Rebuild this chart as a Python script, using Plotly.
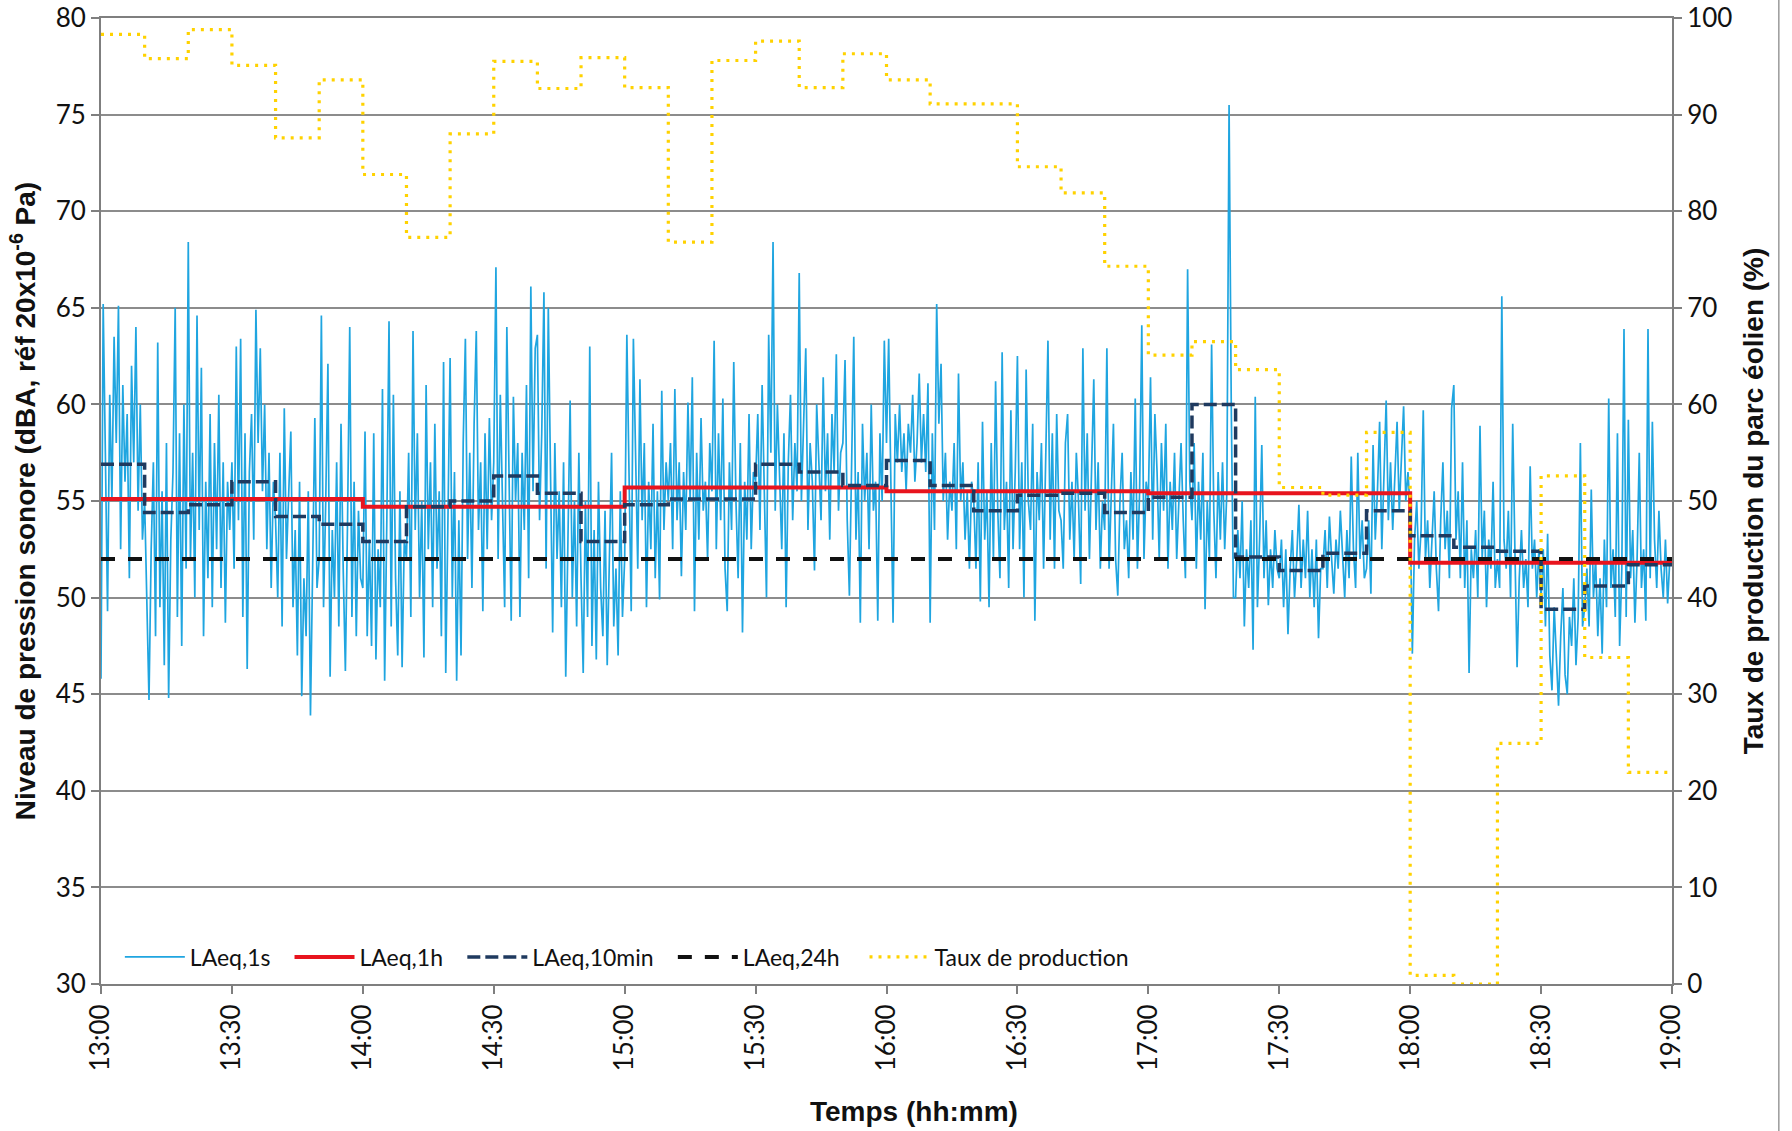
import plotly.graph_objects as go

# ---------------------------------------------------------------------------
# Data
# ---------------------------------------------------------------------------
# Time axis in decimal hours (13:00 -> 19:00)
tick_vals = [13, 13.5, 14, 14.5, 15, 15.5, 16, 16.5, 17, 17.5, 18, 18.5, 19]
tick_text = ["13:00", "13:30", "14:00", "14:30", "15:00", "15:30", "16:00",
             "16:30", "17:00", "17:30", "18:00", "18:30", "19:00"]

# LAeq,1s readings, one value every 30 s (one row = 10 minutes)
laeq_1s = [
    45.8, 65.2, 57.5, 49.3, 60.5, 55.0, 63.5, 58.0, 65.1, 52.5, 61.0, 56.0, 59.5, 51.0, 62.0, 57.0, 64.0, 54.5, 60.0, 53.0,  # 13:00
    55.0, 50.0, 44.7, 52.5, 57.0, 48.0, 63.2, 49.5, 55.5, 46.5, 58.0, 44.8, 53.0, 56.5, 65.0, 49.0, 58.5, 47.5, 60.0, 51.5,  # 13:10
    68.4, 52.0, 57.5, 50.0, 64.6, 53.5, 61.9, 48.0, 56.0, 51.0, 59.5, 49.5, 58.0, 52.5, 60.5, 50.5, 57.0, 48.7, 56.0, 53.5,  # 13:20
    57.0, 51.5, 63.0, 54.0, 63.4, 49.0, 58.5, 46.3, 56.5, 59.5, 53.0, 64.9, 58.0, 62.9, 55.5, 60.0, 52.5, 57.5, 50.5, 56.0,  # 13:30
    54.0, 50.0, 57.5, 48.5, 59.8, 52.0, 55.0, 58.6, 49.5, 53.5, 47.0, 56.0, 44.9, 51.0, 48.0, 55.5, 43.9, 52.0, 59.3, 50.5,  # 13:40
    52.0, 64.6, 49.5, 55.0, 62.1, 45.9, 53.5, 50.0, 57.0, 48.5, 59.0, 51.5, 46.2, 54.0, 64.0, 49.0, 56.0, 48.0, 54.5, 51.0,  # 13:50
    50.5, 58.6, 48.0, 53.0, 47.5, 58.5, 46.8, 52.5, 49.5, 60.8, 45.7, 54.0, 64.3, 48.5, 60.5, 51.0, 47.0, 55.5, 46.4, 53.0,  # 14:00
    52.0, 57.5, 49.0, 63.8, 53.5, 58.5, 50.0, 55.0, 46.9, 61.0, 52.5, 57.0, 49.5, 59.0, 51.5, 55.5, 48.0, 62.2, 46.1, 54.0,  # 14:10
    62.4, 50.0, 56.5, 45.7, 54.0, 47.0, 58.0, 63.4, 52.0, 57.5, 50.5, 59.0, 63.8, 53.5, 57.0, 49.3, 58.5, 52.5, 59.3, 54.0,  # 14:20
    57.0, 67.1, 52.0, 60.5, 54.5, 49.5, 64.0, 56.0, 48.8, 60.4, 55.0, 58.0, 49.0, 57.5, 53.5, 61.0, 51.0, 66.1, 55.5, 62.9,  # 14:30
    63.6, 54.0, 58.5, 65.8, 51.5, 65.0, 56.5, 48.2, 58.0, 52.0, 55.5, 49.5, 57.0, 45.9, 53.0, 60.2, 50.0, 55.0, 48.5, 57.5,  # 14:40
    51.0, 46.1, 55.0, 49.0, 63.0, 47.5, 53.5, 46.8, 56.0, 50.5, 48.0, 54.5, 46.5, 52.0, 57.5, 48.5, 51.5, 47.0, 55.5, 49.0,  # 14:50
    52.0, 63.6, 55.0, 49.3, 63.4, 57.5, 51.5, 61.3, 54.0, 58.0, 49.5, 56.0, 52.5, 59.0, 51.0, 55.5, 49.9, 60.7, 53.5, 57.0,  # 15:00
    55.0, 58.0, 52.5, 60.8, 54.0, 57.0, 51.1, 56.5, 53.5, 60.1, 55.0, 61.4, 49.3, 57.5, 53.0, 59.3, 54.5, 56.0, 52.0, 58.0,  # 15:10
    55.5, 63.3, 52.5, 58.5, 54.0, 60.3, 51.5, 49.3, 57.0, 53.5, 62.2, 55.0, 51.0, 58.0, 48.2, 56.0, 53.0, 59.5, 52.5, 56.5,  # 15:20
    56.0, 59.5, 53.5, 61.0, 55.0, 50.0, 63.6, 57.5, 68.4, 54.5, 60.0, 56.5, 52.5, 58.5, 49.5, 57.0, 60.5, 54.0, 58.0, 55.5,  # 15:30
    66.8, 55.0, 59.5, 62.9, 53.5, 58.0, 56.0, 51.4, 60.0, 57.0, 54.0, 61.4, 55.5, 58.5, 53.0, 59.5, 56.5, 62.6, 54.5, 57.5,  # 15:40
    58.0, 62.3, 54.0, 50.1, 57.5, 63.5, 53.0, 56.5, 48.7, 59.0, 55.0, 57.5, 52.5, 60.0, 54.5, 56.0, 48.8, 58.5, 55.0, 63.3,  # 15:50
    58.0, 63.4, 56.0, 48.7, 59.5, 57.0, 60.0, 56.5, 58.5, 55.5, 59.0, 57.5, 60.5, 56.0, 58.0, 61.6, 57.0, 59.5, 56.5, 61.1,  # 16:00
    48.7, 58.5, 53.5, 65.2, 59.0, 62.1, 55.0, 57.5, 53.0, 56.0, 54.5, 58.0, 52.5, 61.6, 55.0, 57.0, 53.0, 55.5, 51.5, 56.0,  # 16:10
    55.0, 51.5, 57.0, 49.8, 59.1, 53.0, 55.5, 49.5, 58.0, 52.0, 61.2, 54.5, 51.0, 62.7, 53.5, 56.0, 50.5, 59.7, 52.5, 56.5,  # 16:20
    62.5, 52.5, 57.0, 50.0, 61.8, 55.0, 53.5, 59.0, 48.8, 56.5, 54.0, 58.0, 51.5, 57.5, 63.3, 53.0, 58.5, 51.5, 59.5, 54.5,  # 16:30
    54.0, 51.5, 58.0, 59.5, 53.0, 56.0, 52.0, 57.5, 55.0, 50.7, 62.9, 54.5, 58.5, 52.0, 56.0, 61.3, 53.5, 57.0, 51.5, 55.0,  # 16:40
    53.5, 62.9, 51.5, 56.0, 59.0, 52.0, 50.1, 55.0, 57.5, 52.5, 54.0, 51.0, 56.5, 53.0, 60.3, 51.5, 55.5, 64.1, 52.0, 56.0,  # 16:50
    55.0, 61.4, 53.0, 59.5, 56.5, 52.0, 58.0, 54.5, 59.0, 51.5, 56.0, 53.5, 57.5, 52.0, 55.5, 58.0, 54.0, 51.0, 67.0, 56.0,  # 17:00
    54.0, 58.0, 51.5, 56.0, 53.0, 57.5, 49.4, 55.0, 52.0, 63.1, 54.5, 51.0, 56.5, 53.0, 57.0, 52.5, 55.5, 75.5, 60.0, 50.0,  # 17:10
    50.0, 53.5, 51.0, 55.0, 48.5, 52.5, 50.5, 54.0, 47.3, 60.4, 49.5, 53.0, 57.9, 51.0, 54.0, 49.6, 52.5, 50.5, 53.5, 51.5,  # 17:20
    51.0, 53.0, 49.5, 52.5, 48.1, 51.5, 53.5, 50.0, 52.0, 54.8, 50.5, 53.0, 51.0, 54.5, 50.0, 52.5, 49.5, 53.0, 47.9, 51.5,  # 17:30
    51.5, 53.5, 50.5, 54.2, 52.0, 50.2, 53.0, 51.5, 54.5, 52.0, 50.0, 53.5, 51.0, 57.3, 52.5, 50.5, 57.5, 52.0, 54.0, 51.0,  # 17:40
    51.5, 54.0, 50.2, 57.9, 53.0, 55.5, 59.1, 52.5, 56.5, 60.2, 54.0, 57.0, 53.5, 56.0, 59.1, 54.5, 57.5, 59.9, 55.0, 56.5,  # 17:50
    54.5, 47.1, 53.0, 55.0, 51.5, 53.5, 59.7, 52.0, 54.0, 50.5, 53.0, 55.5, 51.5, 49.3, 54.0, 57.0, 52.5, 54.5, 51.0, 59.8,  # 18:00
    61.0, 53.0, 55.5, 51.0, 57.0, 50.5, 54.0, 46.1, 52.5, 51.0, 53.5, 50.0, 58.9, 52.0, 54.5, 49.5, 53.0, 51.5, 56.0, 50.5,  # 18:10
    52.0, 50.5, 65.6, 53.0, 51.5, 54.5, 50.0, 59.0, 52.5, 46.4, 51.0, 53.5, 50.5, 52.0, 49.5, 56.8, 51.5, 53.0, 50.0, 52.5,  # 18:20
    50.0, 52.5, 48.5, 53.3, 47.0, 45.2, 49.5, 46.5, 44.4, 48.0, 50.5, 46.0, 45.0, 49.0, 47.5, 51.0, 46.5, 49.0, 58.0, 48.5,  # 18:30
    49.5, 51.5, 48.5, 55.6, 50.0, 52.0, 48.0, 51.0, 47.1, 53.0, 49.5, 60.3, 50.5, 52.5, 49.0, 58.5, 47.5, 51.5, 63.9, 49.0,  # 18:40
    59.2, 51.0, 53.5, 48.7, 52.0, 57.5, 50.5, 52.5, 48.8, 63.9, 51.0, 59.1, 53.0, 50.5, 54.5, 51.5, 50.0, 53.0, 49.7, 52.0,  # 18:50
]

# Hourly LAeq (13h, 14h, 15h, 16h, 17h, 18h)
laeq_1h = [55.1, 54.7, 55.7, 55.5, 55.4, 51.8]

# 10-minute LAeq (13:00 ... 18:50)
laeq_10min = [
    56.9, 54.4, 54.8, 56.0, 54.2, 53.8,
    52.9, 54.7, 55.0, 56.3, 55.4, 52.9,
    54.8, 55.1, 55.1, 56.9, 56.5, 55.8,
    57.1, 55.8, 54.5, 55.3, 55.4, 54.4,
    55.2, 60.0, 52.1, 51.4, 52.3, 54.5,
    53.2, 52.6, 52.4, 49.4, 50.6, 51.7,
]

# 24-hour LAeq
laeq_24h = 52.0

# Wind farm production rate, % (10-minute steps, 13:00 ... 18:50)
taux_production = [
    98.3, 95.8, 98.8, 95.1, 87.6, 93.6,
    83.8, 77.3, 88.0, 95.5, 92.7, 95.9,
    92.8, 76.8, 95.6, 97.6, 92.8, 96.3,
    93.6, 91.1, 91.1, 84.6, 81.9, 74.3,
    65.1, 66.5, 63.6, 51.4, 50.6, 57.1,
    0.9, 0.0, 24.9, 52.6, 33.8, 21.9,
]

# ---------------------------------------------------------------------------
# Time stamps
# ---------------------------------------------------------------------------
t_1s = [13 + i / 120 for i in range(len(laeq_1s))]
t_10min = [13 + k / 6 for k in range(len(laeq_10min))] + [19]
t_1h = [13 + k for k in range(len(laeq_1h))] + [19]

# ---------------------------------------------------------------------------
# Figure
# ---------------------------------------------------------------------------
TICK_FONT = dict(family="Lato, 'Open Sans', sans-serif", size=26, color="#111111")
TITLE_FONT = dict(family="'Liberation Sans', Arial, sans-serif", size=28, color="#111111")
LEGEND_FONT = dict(family="Lato, 'Open Sans', sans-serif", size=23, color="#111111")
GRID = "#8c8c8c"
AXIS = "#7f7f7f"

fig = go.Figure()

fig.add_trace(go.Scatter(
    x=t_1s, y=laeq_1s, name="LAeq,1s", mode="lines", legend="legend",
    line=dict(color="#1FA5E0", width=1.7),
))
fig.add_trace(go.Scatter(
    x=t_1h, y=laeq_1h + [laeq_1h[-1]], name="LAeq,1h", mode="lines", legend="legend2",
    line=dict(color="#E8141E", width=4, shape="hv"),
))
fig.add_trace(go.Scatter(
    x=t_10min, y=laeq_10min + [laeq_10min[-1]], name="LAeq,10min", mode="lines",
    legend="legend3",
    line=dict(color="#1F3A5F", width=3.5, shape="hv", dash="13px,5px"),
))
fig.add_trace(go.Scatter(
    x=[13, 19], y=[laeq_24h, laeq_24h], name="LAeq,24h", mode="lines", legend="legend4",
    line=dict(color="#111111", width=4, dash="14px,13px"),
))
fig.add_trace(go.Scatter(
    x=t_10min, y=taux_production + [taux_production[-1]], name="Taux de production",
    mode="lines", yaxis="y2", legend="legend5",
    line=dict(color="#FFD200", width=3.2, shape="hv", dash="3px,6px"),
))


def legend_box(x):
    return dict(
        orientation="h", x=x, xanchor="left", y=0.028, yanchor="middle",
        bgcolor="rgba(0,0,0,0)", font=LEGEND_FONT, itemwidth=60,
    )


fig.update_layout(
    width=1792,
    height=1131,
    margin=dict(l=101, r=120, t=18, b=147),
    paper_bgcolor="white",
    plot_bgcolor="white",
    showlegend=True,
    legend=legend_box(0.012),
    legend2=legend_box(0.120),
    legend3=legend_box(0.230),
    legend4=legend_box(0.364),
    legend5=legend_box(0.486),
    xaxis=dict(
        range=[13, 19],
        tickvals=tick_vals,
        ticktext=tick_text,
        tickangle=-90,
        tickfont=TICK_FONT,
        ticks="outside", ticklen=8, tickwidth=1.5, tickcolor=AXIS,
        showgrid=False, zeroline=False,
        showline=True, linecolor=AXIS, linewidth=2, mirror=True,
        automargin=False,
    ),
    yaxis=dict(
        range=[30, 80], dtick=5, tick0=30,
        tickfont=TICK_FONT,
        ticks="outside", ticklen=8, tickwidth=1.5, tickcolor=AXIS,
        showgrid=True, gridcolor=GRID, gridwidth=1.5, zeroline=False,
        showline=True, linecolor=AXIS, linewidth=2,
        title=dict(text="<b>Niveau de pression sonore (dBA, réf 20x10<sup>-6</sup> Pa)</b>",
                   font=TITLE_FONT, standoff=12),
        automargin=False,
    ),
    yaxis2=dict(
        range=[0, 100], dtick=10, tick0=0,
        overlaying="y", side="right",
        tickfont=TICK_FONT,
        ticks="outside", ticklen=8, tickwidth=1.5, tickcolor=AXIS,
        showgrid=False, zeroline=False,
        showline=True, linecolor=AXIS, linewidth=2,
        title=dict(text="<b>Taux de production du parc éolien (%)</b>",
                   font=TITLE_FONT, standoff=12),
        automargin=False,
    ),
    annotations=[
        # x-axis title, set slightly right of the plot centre
        dict(text="<b>Temps (hh:mm)</b>", xref="paper", yref="paper",
             x=0.5175, y=-0.1325, xanchor="center", yanchor="middle",
             showarrow=False, font=TITLE_FONT),
    ],
    shapes=[
        # page edge on the right-hand side
        dict(type="line", xref="paper", yref="paper",
             x0=1.068, x1=1.068, y0=-0.155, y1=1.02,
             line=dict(color="#9a9a9a", width=1.5)),
    ],
)

fig.write_html("out.html", config={"displayModeBar": False})
